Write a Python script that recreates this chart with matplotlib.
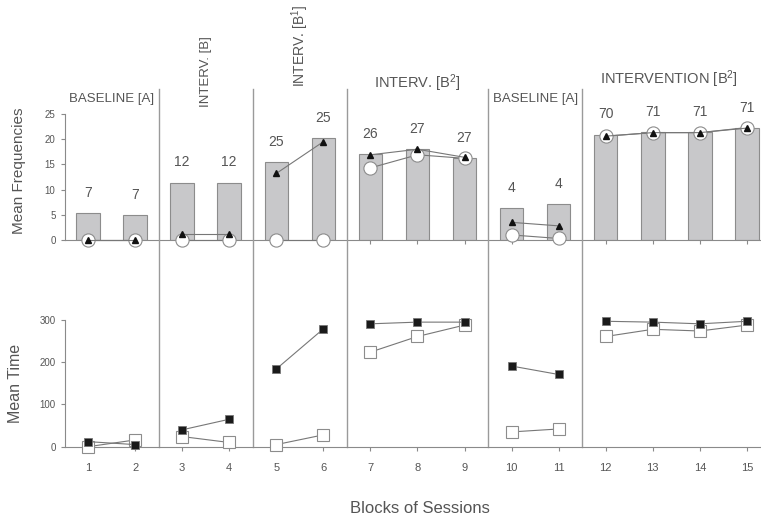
import numpy as np
import matplotlib.pyplot as plt
from matplotlib.transforms import blended_transform_factory

plt.rcParams['font.family'] = ['Liberation Sans', 'DejaVu Sans']
plt.rcParams['mathtext.fontset'] = 'custom'
plt.rcParams['mathtext.rm'] = 'Liberation Sans'
plt.rcParams['mathtext.it'] = 'Liberation Sans'

# Data
blocks = np.arange(1, 16)
# phase membership (lines are only drawn inside a phase)
phases = [[1, 2], [3, 4], [5, 6], [7, 8, 9], [10, 11], [12, 13, 14, 15]]
phase_labels = ["BASELINE [A]", "INTERV. [B]", "INTERV. [B$^1$]",
                "INTERV. [B$^2$]", "BASELINE [A]", "INTERVENTION [B$^2$]"]
phase_breaks = [2.5, 4.5, 6.5, 9.5, 11.5]

bar_freq = [5.4, 5.0, 11.4, 11.4, 15.5, 20.2, 17.0, 18.0, 16.3, 6.3, 7.1, 20.9, 21.4, 21.4, 22.2]
bar_counts = [7, 7, 12, 12, 25, 25, 26, 27, 27, 4, 4, 70, 71, 71, 71]
tri_freq = [0, 0, 1.1, 1.1, 13.2, 19.5, 16.9, 18.0, 16.4, 3.5, 2.8, 20.6, 21.3, 21.3, 22.2]
circ_freq = [0, 0, 0, 0, 0, 0, 14.3, 16.9, 16.2, 1.0, 0.3, 20.6, 21.3, 21.3, 22.3]

time_filled = [12, 5, 40, 65, 184, 279, 291, 295, 295, 191, 171, 297, 295, 291, 297]
time_open = [0, 16, 24, 10, 5, 28, 224, 261, 288, 35, 42, 261, 278, 274, 288]

TXT = '#555555'
AX = '#8a8a8a'

fig = plt.figure(figsize=(7.61, 5.19), dpi=100)
ax1 = fig.add_axes([0.0848, 0.5376, 0.9152, 0.2428])
ax2 = fig.add_axes([0.0848, 0.1393, 0.9152, 0.2441])

for ax in (ax1, ax2):
    ax.set_xlim(0.5, 15.3)
    ax.spines['top'].set_visible(False)
    ax.spines['right'].set_visible(False)
    ax.spines['left'].set_color(AX)
    ax.spines['bottom'].set_color(AX)
    ax.set_xticks(blocks)
    ax.tick_params(colors=AX, labelcolor=TXT, length=3, width=0.8)

# top panel
ax1.set_ylim(0, 25)
ax1.spines['left'].set_bounds(0, 25)
ax1.set_yticks([0, 5, 10, 15, 20, 25])
ax1.tick_params(axis='y', labelsize=7)
ax1.tick_params(axis='x', labelbottom=False)
ax1.bar(blocks, bar_freq, width=0.5, color='#c8c8ca', edgecolor='#8c8c8c', linewidth=0.8, zorder=2)
for b, h, c in zip(blocks, bar_freq, bar_counts):
    ax1.text(b, h + 4, str(c), ha='center', va='center', fontsize=10, color=TXT)

idx = {b: i for i, b in enumerate(blocks)}
for ph in phases:
    ii = [idx[b] for b in ph]
    ax1.plot(ph, [circ_freq[i] for i in ii], color='#777777', lw=0.8, zorder=3,
             marker='o', ms=9.5, mfc='white', mec='#8c8c8c', mew=0.8, clip_on=False)
    ax1.plot(ph, [tri_freq[i] for i in ii], color='#777777', lw=0.8, zorder=4,
             marker='^', ms=5, mfc='#111111', mec='#111111', clip_on=False)

# phase labels
ax1.text(1.5, 28.0, phase_labels[0], ha='center', va='center', fontsize=9.5, color=TXT, clip_on=False)
ax1.text(3.5, 26.4, phase_labels[1], ha='center', va='bottom', rotation=90, fontsize=9.5, color=TXT)
ax1.text(5.5, 30.4, phase_labels[2], ha='center', va='bottom', rotation=90, fontsize=10, color=TXT)
ax1.text(8.0, 31.2, phase_labels[3], ha='center', va='center', fontsize=10.5, color=TXT)
ax1.text(10.5, 28.0, phase_labels[4], ha='center', va='center', fontsize=9.5, color=TXT)
ax1.text(13.35, 31.9, phase_labels[5], ha='center', va='center', fontsize=10.5, color=TXT)

ax1.set_ylabel("Mean Frequencies", fontsize=11, color=TXT)
ax1.yaxis.set_label_coords(-0.055, 0.55)

# bottom panel
ax2.set_ylim(0, 300)
ax2.spines['left'].set_bounds(0, 300)
ax2.set_yticks([0, 100, 200, 300])
ax2.tick_params(axis='y', labelsize=7)
ax2.tick_params(axis='x', labelsize=8, pad=9)
for ph in phases:
    ii = [idx[b] for b in ph]
    ax2.plot(ph, [time_open[i] for i in ii], color='#777777', lw=0.8, zorder=3,
             marker='s', ms=9, mfc='white', mec='#8c8c8c', mew=0.8, clip_on=False)
    ax2.plot(ph, [time_filled[i] for i in ii], color='#777777', lw=0.8, zorder=4,
             marker='s', ms=6, mfc='#1a1a1a', mec='#777777', mew=0.6, clip_on=False)
ax2.set_ylabel("Mean Time", fontsize=11.5, color=TXT)
ax2.yaxis.set_label_coords(-0.06, 0.5)

# phase separators across both panels
tr = blended_transform_factory(ax2.transData, fig.transFigure)
for xb in phase_breaks:
    ax2.plot([xb, xb], [1 - 89 / 519, 1 - 447 / 519], transform=tr, color='#9a9a9a',
             lw=1.0, clip_on=False, zorder=1)

fig.text(0.552, 0.021, "Blocks of Sessions", ha='center', va='center', fontsize=12, color=TXT)

plt.savefig("out.png", dpi=100)
